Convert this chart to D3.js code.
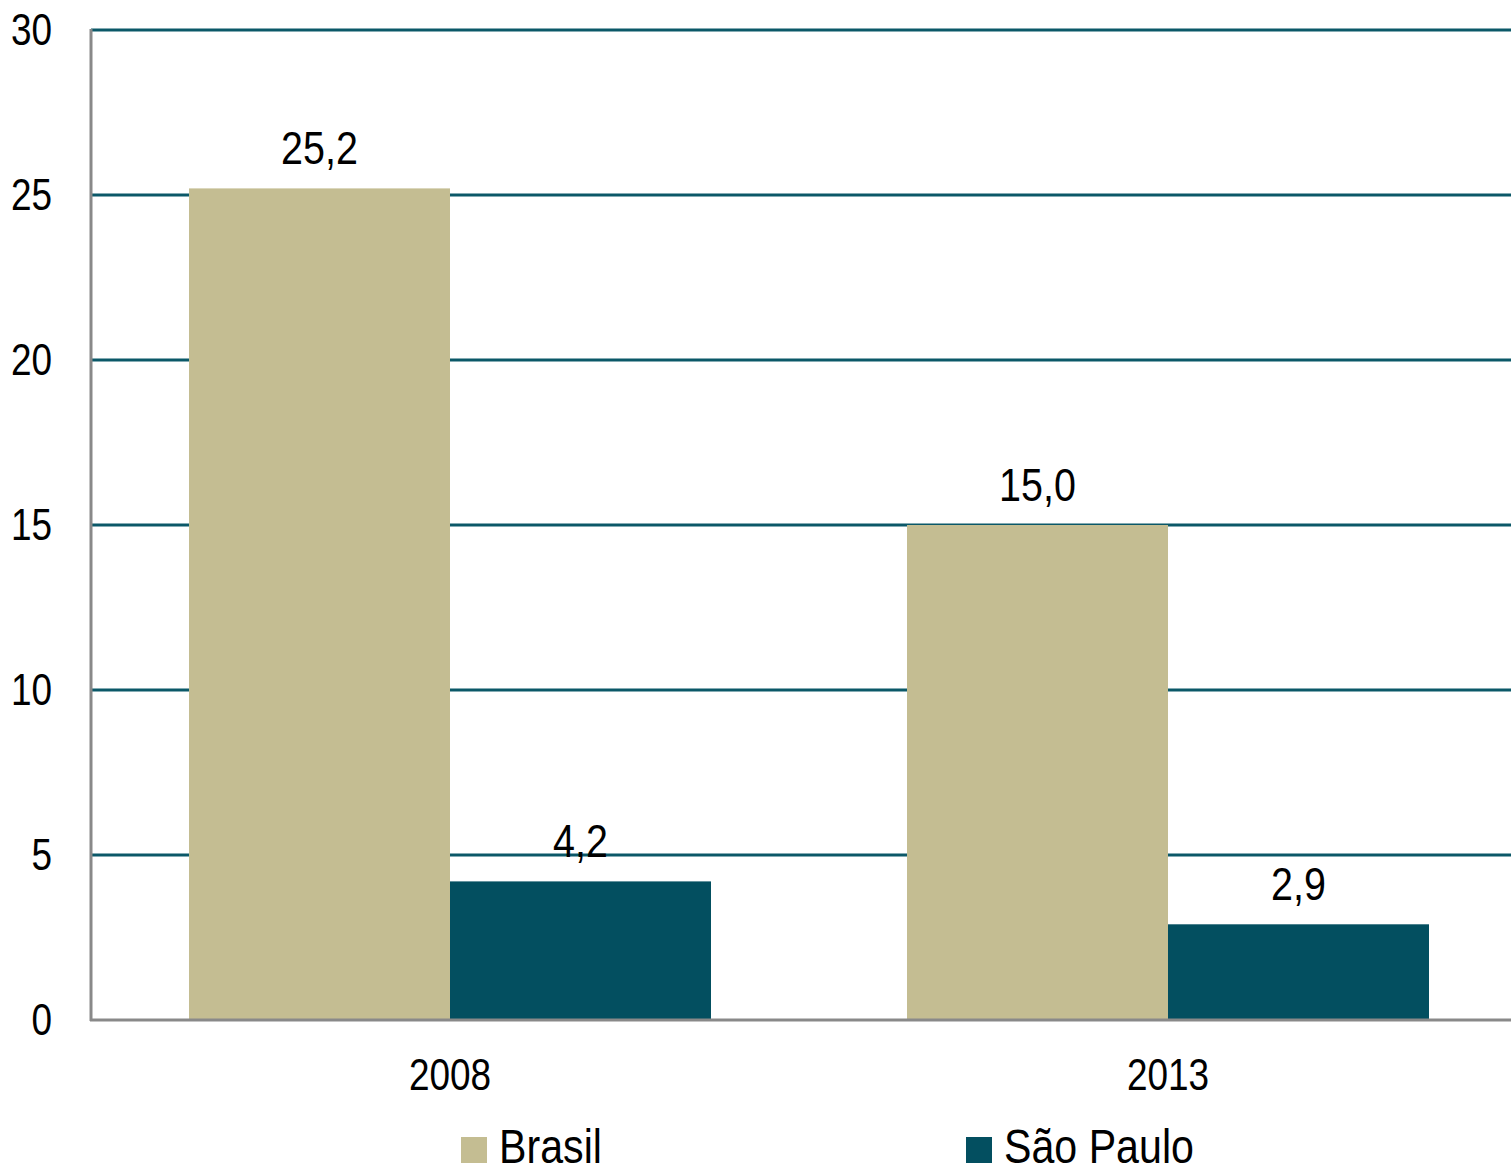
<!DOCTYPE html>
<html>
<head>
<meta charset="utf-8">
<script src="https://cdn.jsdelivr.net/npm/d3@7"></script>
<style>
  body { margin: 0; background: #fff; }
  text { font-family: "Liberation Sans Narrow", "Arial Narrow", "Liberation Sans", sans-serif; fill: #000; }
</style>
</head>
<body>
<svg id="chart"></svg>
<script>
const years = ['2008', '2013'];
const series = ['Brasil', 'São Paulo'];
const brasil = [25.2, 15.0];
const saoPaulo = [4.2, 2.9];
const yTicks = [0, 5, 10, 15, 20, 25, 30];

const width = 1511, height = 1169;
const plotLeft = 91, plotTop = 30, plotBottom = 1020;
const colors = { 'Brasil': '#c4bd92', 'São Paulo': '#034f60' };
const narrow = 0.84; // the original uses a condensed face

const svg = d3.select('#chart').attr('width', width).attr('height', height);

// place text at (x, y) squeezed horizontally
const squeeze = (x, y) => `translate(${x},${y}) scale(${narrow},1)`;

const x0 = d3.scaleBand()
  .domain(years)
  .range([plotLeft, 1527])
  .paddingInner(0.273)
  .paddingOuter(0.1365);

const x1 = d3.scaleBand()
  .domain(series)
  .range([0, x0.bandwidth()]);

const y = d3.scaleLinear()
  .domain([0, 30])
  .range([plotBottom, plotTop]);

// gridlines
svg.append('g')
  .selectAll('line')
  .data(yTicks.filter(d => d > 0))
  .enter().append('line')
  .attr('x1', plotLeft)
  .attr('x2', width)
  .attr('y1', d => y(d))
  .attr('y2', d => y(d))
  .attr('stroke', '#0b5868')
  .attr('stroke-width', 3);

const data = years.map((yr, i) => ({ year: yr, values: [
  { key: 'Brasil', value: brasil[i] },
  { key: 'São Paulo', value: saoPaulo[i] }
] }));

const groups = svg.selectAll('.grp')
  .data(data)
  .enter().append('g')
  .attr('class', 'grp')
  .attr('transform', d => `translate(${x0(d.year)},0)`);

groups.selectAll('rect')
  .data(d => d.values)
  .enter().append('rect')
  .attr('x', d => x1(d.key))
  .attr('width', x1.bandwidth())
  .attr('y', d => y(d.value))
  .attr('height', d => y(0) - y(d.value))
  .attr('fill', d => colors[d.key]);

groups.selectAll('.lbl')
  .data(d => d.values)
  .enter().append('text')
  .attr('class', 'lbl')
  .attr('transform', d => squeeze(x1(d.key) + x1.bandwidth() / 2, y(d.value) - 24))
  .attr('text-anchor', 'middle')
  .style('font-size', '47px')
  .text(d => d.value.toFixed(1).replace('.', ','));

// axes lines
svg.append('line')
  .attr('x1', plotLeft).attr('x2', plotLeft)
  .attr('y1', plotTop - 1).attr('y2', plotBottom + 1)
  .attr('stroke', '#898989').attr('stroke-width', 3);
svg.append('line')
  .attr('x1', plotLeft - 1).attr('x2', width)
  .attr('y1', plotBottom).attr('y2', plotBottom)
  .attr('stroke', '#898989').attr('stroke-width', 3);

// y tick labels
svg.append('g')
  .selectAll('text')
  .data(yTicks)
  .enter().append('text')
  .attr('transform', d => squeeze(52, y(d) + 15))
  .attr('text-anchor', 'end')
  .style('font-size', '44px')
  .text(d => d);

// x labels
svg.append('g')
  .selectAll('text')
  .data(years)
  .enter().append('text')
  .attr('transform', d => squeeze(x0(d) + x0.bandwidth() / 2, 1090))
  .attr('text-anchor', 'middle')
  .style('font-size', '44px')
  .text(d => d);

// legend
const legendX = [461, 966];
const legend = svg.selectAll('.legend')
  .data(series)
  .enter().append('g')
  .attr('class', 'legend')
  .attr('transform', (d, i) => `translate(${legendX[i]},1137)`);

legend.append('rect')
  .attr('width', 26)
  .attr('height', 26)
  .attr('fill', d => colors[d]);

legend.append('text')
  .attr('transform', squeeze(38, 26))
  .style('font-size', '49px')
  .text(d => d);
</script>
</body>
</html>
